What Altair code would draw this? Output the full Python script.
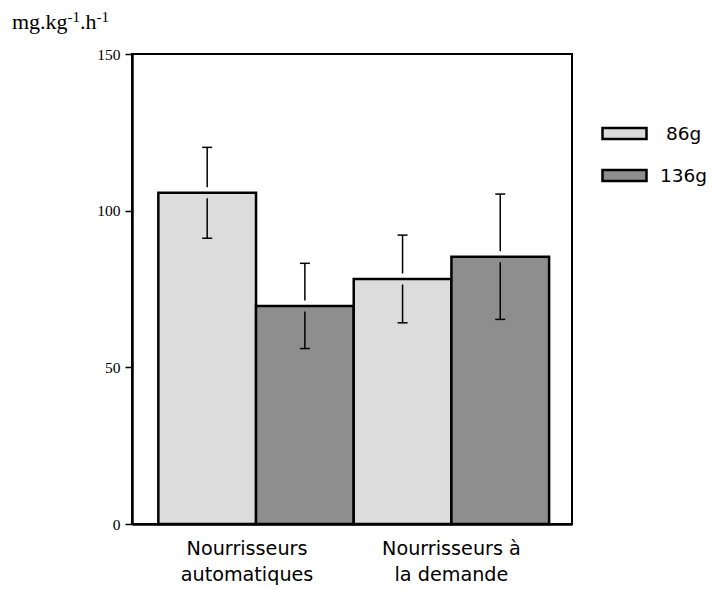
import altair as alt
import pandas as pd

# Feeder type groups and fish mass classes
groups = ["Nourrisseurs automatiques", "Nourrisseurs à la demande"]
group_lines = [["Nourrisseurs", "automatiques"], ["Nourrisseurs à", "la demande"]]
masses = ["86g", "136g"]

# Mean rate and standard error for each group / mass pair
group_col = [groups[0], groups[0], groups[1], groups[1]]
mass_col = ["86g", "136g", "86g", "136g"]
means = [105.7, 69.6, 78.2, 85.3]
errors = [14.5, 13.6, 14.0, 20.0]

# Unit label pieces (normal / superscript)
unit_parts = ["mg.kg", "-1", ".h", "-1"]

y_ticks = [0, 50, 100, 150]
fills = ["#dcdcdc", "#8e8e8e"]

df = pd.DataFrame({
    "group": group_col,
    "mass": mass_col,
    "mean": means,
    "err": errors,
})
df["low"] = df["mean"] - df["err"]
df["high"] = df["mean"] + df["err"]

label_expr = (
    f"datum.value == '{groups[0]}' ? {group_lines[0]} : {group_lines[1]}"
)

x_enc = alt.X(
    "group:N",
    sort=groups,
    scale=alt.Scale(paddingInner=0, paddingOuter=0.126, align=0.535),
    axis=alt.Axis(
        title=None,
        labelExpr=label_expr,
        labelAngle=0,
        ticks=False,
        labelPadding=15,
        labelOffset={"condition": {"test": f"datum.value == '{groups[0]}'",
                                   "value": -9},
                     "value": 0},
        labelFont="DejaVu Sans",
        labelFontSize=19.2,
        labelColor="black",
        labelLineHeight=26,
        domainColor="black",
        domainWidth=2.5,
    ),
)
xo_enc = alt.XOffset(
    "mass:N", sort=masses, scale=alt.Scale(paddingInner=0, paddingOuter=0)
)
y_scale = alt.Scale(domain=[0, 150], nice=False, zero=True)

base = alt.Chart(df)

bars = base.mark_bar(stroke="black", strokeWidth=2.5, opacity=1).encode(
    x=x_enc,
    xOffset=xo_enc,
    y=alt.Y(
        "mean:Q",
        scale=y_scale,
        axis=alt.Axis(
            title=None,
            values=y_ticks,
            grid=False,
            tickColor="black",
            tickSize=7,
            tickWidth=1.5,
            labelFont="Liberation Serif",
            labelFontSize=15.5,
            labelColor="black",
            labelPadding=5,
            domainColor="black",
            domainWidth=2.5,
        ),
    ),
    color=alt.Color(
        "mass:N",
        sort=masses,
        scale=alt.Scale(domain=masses, range=fills),
        legend=alt.Legend(
            title=None,
            orient="none",
            legendX=469,
            legendY=56,
            symbolType="M-1,-0.25L1,-0.25L1,0.25L-1,0.25Z",
            symbolSize=1936,
            symbolStrokeColor="black",
            symbolStrokeWidth=2.5,
            symbolOpacity=1,
            labelFont="DejaVu Sans",
            labelFontSize=18.5,
            labelColor="black",
            labelOffset=12,
            rowPadding=8,
            labelExpr="datum.label == '86g' ? '\u200d\u00a0' + datum.label : datum.label",
        ),
    ),
)

upper = base.mark_rule(color="black", strokeWidth=1.5, y2Offset=-5.5).encode(
    x=x_enc, xOffset=xo_enc,
    y=alt.Y("high:Q", scale=y_scale), y2="mean:Q",
)
lower = base.mark_rule(color="black", strokeWidth=1.5, yOffset=5.5).encode(
    x=x_enc, xOffset=xo_enc,
    y=alt.Y("mean:Q", scale=y_scale), y2="low:Q",
)
cap_hi = base.mark_tick(color="black", size=10, thickness=1.5,
                        orient="horizontal", opacity=1).encode(
    x=x_enc, xOffset=xo_enc, y=alt.Y("high:Q", scale=y_scale),
)
cap_lo = base.mark_tick(color="black", size=10, thickness=1.5,
                        orient="horizontal", opacity=1).encode(
    x=x_enc, xOffset=xo_enc, y=alt.Y("low:Q", scale=y_scale),
)

# Unit label, drawn above the y axis with raised exponents
unit_specs = [
    (unit_parts[0], -120, -25, 22),
    (unit_parts[1], -64.4, -32, 15),
    (unit_parts[2], -51.9, -25, 22),
    (unit_parts[3], -35.4, -32, 15),
]
unit_layers = []
for txt, ux, uy, fs in unit_specs:
    unit_layers.append(
        alt.Chart(pd.DataFrame({"t": [txt]}))
        .mark_text(font="Liberation Serif", fontSize=fs, color="black",
                   align="left", baseline="alphabetic")
        .encode(text="t:N", x=alt.value(ux), y=alt.value(uy))
    )

chart = (
    alt.layer(bars, upper, lower, cap_hi, cap_lo, *unit_layers)
    .properties(
        width=440,
        height=470,
        padding={"left": 132, "top": 54, "right": 141, "bottom": 66},
        autosize=alt.AutoSizeParams(type="none"),
        background="white",
    )
    .configure_view(stroke="black", strokeWidth=2)
)

chart.save("out.html", embed_options={"renderer": "svg", "actions": False})
